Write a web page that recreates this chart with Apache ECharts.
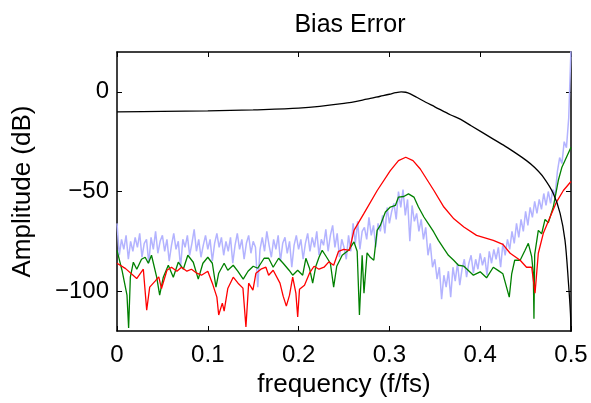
<!DOCTYPE html>
<html>
<head>
<meta charset="utf-8">
<script src="https://cdn.jsdelivr.net/npm/echarts@6/dist/echarts.min.js"></script>
<style>
  html, body { margin: 0; padding: 0; background: #fff; }
  #chart { width: 591px; height: 403px; }
</style>
</head>
<body>
<div id="chart"></div>
<script>
// blue trace: one value every 0.0025 f/fs, from 0 to 0.5
var blueStep = 0.0025;
var blueDb = [
  -66, -82, -74, -79, -72, -84, -75, -80, -73, -78,
  -71, -83, -76, -74, -86, -73, -79, -70, -81, -75,
  -72, -80, -74, -85, -77, -71, -79, -75, -88, -74,
  -78, -72, -82, -76, -69, -80, -74, -83, -77, -72,
  -79, -74, -85, -76, -71, -78, -73, -82, -75, -80,
  -73, -86, -77, -71, -79, -74, -84, -76, -72, -81,
  -75, -78, -98, -79, -73, -80, -70, -77, -83, -74,
  -79, -72, -85, -76, -73, -81, -75, -88, -77, -72,
  -79, -74, -84, -76, -71, -80, -73, -78, -70, -82,
  -74, -77, -69, -80, -72, -67, -78, -71, -83, -74,
  -78, -84, -72, -80, -66, -76, -65, -79, -70, -68,
  -74, -63, -72, -67, -78, -66, -70, -62, -71, -58,
  -66, -60, -56, -64, -50, -58, -49, -62, -54, -75,
  -57, -65, -61, -70, -64, -74, -68, -82, -76, -88,
  -84, -94, -88, -104, -92, -98, -90, -103, -88, -95,
  -86, -97, -89, -84, -93, -86, -82, -91, -84, -89,
  -81, -87, -83, -92, -80, -86, -79, -84, -78, -88,
  -76, -82, -74, -79, -70, -76, -66, -73, -64, -70,
  -60, -67, -58, -63, -55, -61, -54, -59, -51, -57,
  -50, -56, -49, -52, -40, -33, -36, -25, -28, -13,
  22
];

// red trace [f/fs, dB]
var redPts = [
  [0, -86], [0.0095, -88.7], [0.0217, -93.7], [0.029, -89], [0.0327, -109.5],
  [0.036, -98], [0.042, -95], [0.046, -92.8], [0.049, -98.7], [0.055, -89.5],
  [0.06, -88], [0.066, -90], [0.071, -88], [0.077, -90], [0.082, -89],
  [0.088, -91], [0.093, -92], [0.1, -90], [0.105, -96], [0.11, -103],
  [0.112, -112], [0.116, -106], [0.118, -110], [0.122, -98.7], [0.128, -93],
  [0.1333, -96], [0.1387, -98.5], [0.142, -118], [0.145, -96], [0.1497, -99.5],
  [0.153, -91], [0.1585, -89], [0.164, -88], [0.167, -92], [0.172, -89.5],
  [0.1795, -96], [0.183, -102.5], [0.1865, -107.5], [0.19, -102], [0.1935, -93],
  [0.197, -101], [0.199, -113], [0.201, -99], [0.2065, -97], [0.212, -91],
  [0.217, -87.5], [0.2225, -89], [0.228, -88], [0.2333, -85.3], [0.2386, -87],
  [0.244, -80], [0.2497, -79], [0.256, -79.5], [0.261, -69.5], [0.272, -61],
  [0.2866, -49.5], [0.301, -39.5], [0.31, -34.5], [0.318, -32.8], [0.326, -34.5],
  [0.334, -38.7], [0.349, -49.5], [0.36, -57.8], [0.371, -63.7], [0.382, -67.8],
  [0.396, -72], [0.4144, -74.5], [0.425, -76.5], [0.433, -81], [0.444, -84.5],
  [0.451, -88], [0.4567, -88], [0.4604, -101], [0.464, -81], [0.4695, -71],
  [0.477, -62.8], [0.484, -55.3], [0.4916, -49.5], [0.5, -45]
];

// green trace [f/fs, dB]
var greenPts = [
  [0, -79.5], [0.0055, -89.5], [0.011, -102], [0.0128, -118.5], [0.0147, -93],
  [0.018, -85.5], [0.0218, -89], [0.027, -84], [0.031, -83], [0.0345, -86],
  [0.038, -82], [0.0437, -93], [0.047, -102], [0.051, -93], [0.0565, -87],
  [0.062, -93], [0.0675, -85.5], [0.073, -89], [0.078, -82], [0.084, -85.5],
  [0.0895, -94], [0.0946, -86], [0.1, -83], [0.105, -86], [0.109, -98],
  [0.112, -91], [0.118, -86], [0.122, -89.5], [0.128, -87], [0.133, -90],
  [0.139, -94], [0.1443, -90], [0.15, -87.5], [0.155, -88.5], [0.162, -83.5],
  [0.167, -83.5], [0.172, -88], [0.178, -83.5], [0.183, -86], [0.1895, -89.5],
  [0.1935, -92], [0.199, -89.5], [0.2045, -92], [0.208, -83.5], [0.212, -88.5],
  [0.2155, -96], [0.219, -87.5], [0.2225, -83], [0.226, -79.5], [0.2295, -82],
  [0.235, -86], [0.2386, -98], [0.242, -87.5], [0.248, -82], [0.255, -79.5],
  [0.261, -75.3], [0.2645, -80], [0.267, -112], [0.27, -82], [0.272, -101],
  [0.2754, -80.8], [0.279, -83], [0.2828, -84.5], [0.2865, -69.5], [0.29, -67],
  [0.2956, -60.3], [0.301, -57.8], [0.3066, -57], [0.31, -52.8], [0.3158, -52.5],
  [0.321, -51.2], [0.327, -52.8], [0.332, -57.8], [0.338, -62.8], [0.343, -66.2],
  [0.3488, -70.3], [0.354, -74.5], [0.36, -78.7], [0.365, -82], [0.3708, -84.5],
  [0.376, -87], [0.382, -87.5], [0.3925, -92], [0.4, -90.3], [0.407, -93.3],
  [0.4144, -88], [0.42, -89.7], [0.425, -91.3], [0.429, -98], [0.432, -103],
  [0.4347, -91.3], [0.438, -84.5], [0.444, -84.5], [0.4494, -79.5], [0.453, -76],
  [0.4567, -82.7], [0.4585, -91.3], [0.4592, -113.8], [0.46, -81.7], [0.464, -69.5],
  [0.4677, -71.2], [0.4714, -64], [0.475, -65.7], [0.4805, -57.8], [0.486, -44.5],
  [0.49, -37.8], [0.495, -32.8], [0.5, -27.8]
];

// black trace [f/fs, dB]
var blackPts = [
  [0, -10], [0.05, -9.8], [0.1, -9.5], [0.15, -9], [0.2, -8.2],
  [0.25, -5.8], [0.275, -3.7], [0.29, -2.2], [0.3, -1.2], [0.307, -0.4],
  [0.313, 0], [0.318, -0.2], [0.323, -1], [0.33, -2.7], [0.34, -5.2],
  [0.35, -7.5], [0.367, -11.5], [0.378, -13.7], [0.39, -17], [0.4144, -23.7],
  [0.43, -28], [0.451, -34.5], [0.46, -38], [0.4695, -42.8], [0.4805, -51],
  [0.488, -61], [0.4934, -74.5], [0.497, -94.5], [0.4997, -114.5], [0.5, -130]
];

var yTicks = [-100, -50, 0];

var chart = echarts.init(document.getElementById('chart'));
var font = 'Liberation Sans, Arial, Helvetica, sans-serif';
var minus = function (v) { return String(v).replace('-', '\u2212'); };

var bluePts = blueDb.map(function (v, i) { return [+(i * blueStep).toFixed(4), v]; });

var tickStyle = { inside: true, length: 5, lineStyle: { color: '#000', width: 1 } };
var frame = { show: true, onZero: false, lineStyle: { color: '#000', width: 1.5 } };

var option = {
  animation: false,
  backgroundColor: '#fff',
  title: {
    text: 'Bias Error',
    left: 345,
    top: 8,
    textAlign: 'center',
    textStyle: { fontFamily: font, fontSize: 25, fontWeight: 'normal', color: '#000' }
  },
  grid: { left: 117, right: 20, top: 52, bottom: 72 },
  xAxis: [{
    type: 'value',
    min: 0, max: 0.5, interval: 0.1,
    name: 'frequency (f/fs)',
    nameLocation: 'middle',
    nameGap: 33,
    nameTextStyle: { fontFamily: font, fontSize: 26, color: '#000' },
    axisLine: frame,
    axisTick: tickStyle,
    splitLine: { show: false },
    axisLabel: { fontFamily: font, fontSize: 24, color: '#000', margin: 12,
      formatter: function (v) { return String(v); } }
  }, {
    type: 'value', position: 'top',
    min: 0, max: 0.5, interval: 0.1,
    axisLine: frame,
    axisTick: tickStyle,
    axisLabel: { show: false },
    splitLine: { show: false }
  }],
  yAxis: [{
    type: 'value',
    min: -120, max: 20,
    name: 'Amplitude (dB)',
    nameLocation: 'middle',
    nameGap: 81,
    nameTextStyle: { fontFamily: font, fontSize: 26, color: '#000' },
    axisLine: frame,
    axisTick: Object.assign({ customValues: yTicks }, tickStyle),
    splitLine: { show: false },
    axisLabel: { customValues: yTicks, fontFamily: font, fontSize: 24, color: '#000', margin: 8,
      formatter: minus }
  }, {
    type: 'value', position: 'right',
    min: -120, max: 20,
    axisLine: frame,
    axisTick: Object.assign({ customValues: yTicks }, tickStyle),
    axisLabel: { show: false },
    splitLine: { show: false }
  }],
  series: [
    { name: 'blue', type: 'line', data: bluePts, showSymbol: false, clip: true,
      lineStyle: { color: '#b3b3ff', width: 1.5 } },
    { name: 'green', type: 'line', data: greenPts, showSymbol: false, clip: true,
      lineStyle: { color: '#008000', width: 1.3 } },
    { name: 'red', type: 'line', data: redPts, showSymbol: false, clip: true,
      lineStyle: { color: '#ff0000', width: 1.3 } },
    { name: 'black', type: 'line', data: blackPts, showSymbol: false, clip: true, smooth: 0.3,
      lineStyle: { color: '#000', width: 1.3 } }
  ]
};
chart.setOption(option);
</script>
</body>
</html>
